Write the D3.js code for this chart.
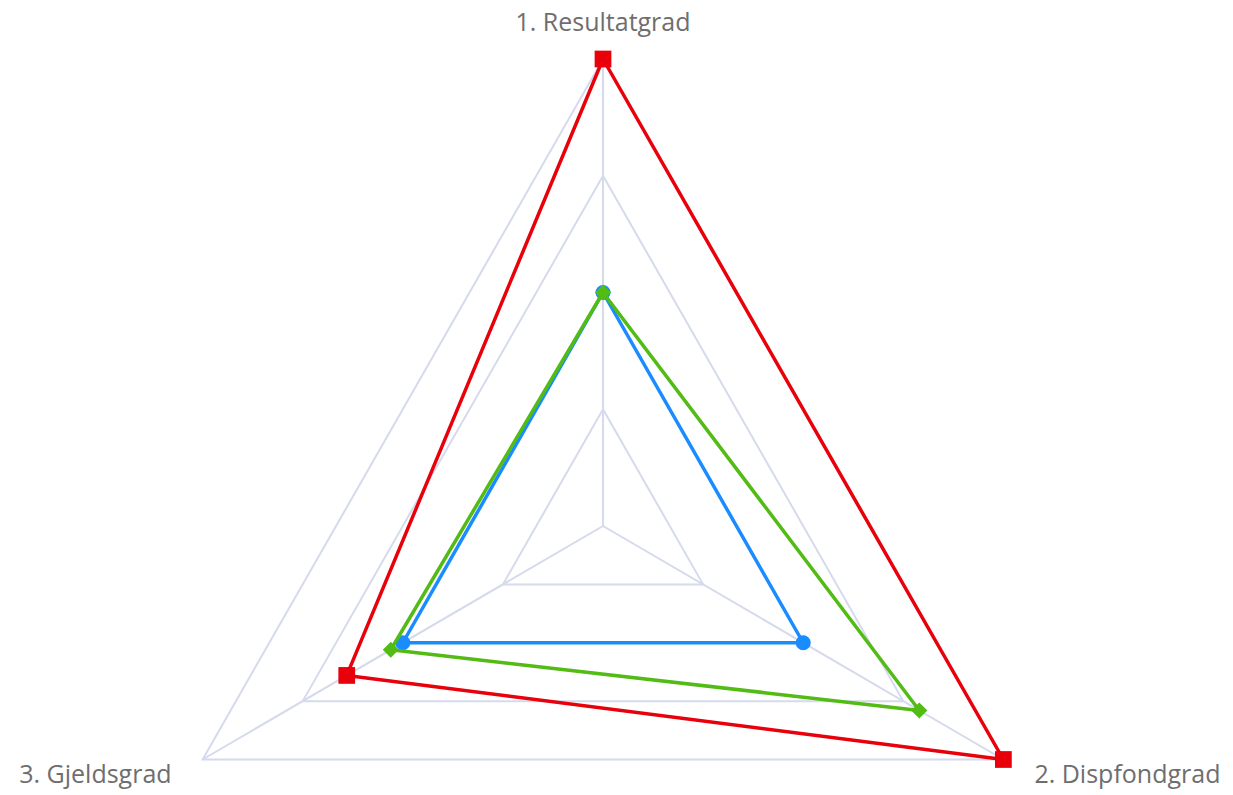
<!DOCTYPE html>
<html>
<head>
<meta charset="utf-8">
<script src="https://cdn.jsdelivr.net/npm/d3@7"></script>
<style>
  body { margin: 0; background: #fff; }
  text { font-family: "Open Sans", "Noto Sans", sans-serif; }
</style>
</head>
<body>
<svg id="chart" width="1233" height="795"></svg>
<script>
// axes and series values (scale 0-100, grid every 25)
const axes = ["1. Resultatgrad", "2. Dispfondgrad", "3. Gjeldsgrad"];
const gridLevels = [25, 50, 75, 100];
const redValues = [100, 100, 64];
const blueValues = [50, 50, 50];
const greenValues = [50, 79, 53];

const series = [
    { name: "red", values: redValues, color: "#e8000b", marker: "square" },
    { name: "blue", values: blueValues, color: "#1a8cff", marker: "circle" },
    { name: "green", values: greenValues, color: "#52bb14", marker: "diamond" }
];

const svg = d3.select("#chart");
const cx = 603, cy = 526, R = 467;

const r = d3.scaleLinear().domain([0, 100]).range([0, R]);
const angle = d3.scalePoint().domain(axes).range([0, 2 * Math.PI * (axes.length - 1) / axes.length]);

// slight horizontal squeeze like the original
function pt(axis, v) {
    const a = angle(axis);
    return [cx + 0.99 * r(v) * Math.sin(a), cy - r(v) * Math.cos(a)];
}

const g = svg.append("g");

// grid rings
g.append("g")
    .selectAll("path")
    .data(gridLevels)
    .enter().append("path")
    .attr("d", lv => d3.line()(axes.map(a => pt(a, lv))) + "Z")
    .attr("fill", "none")
    .attr("stroke", "#d5daec")
    .attr("stroke-width", 2);

// spokes
g.append("g")
    .selectAll("line")
    .data(axes)
    .enter().append("line")
    .attr("x1", cx)
    .attr("y1", cy)
    .attr("x2", a => pt(a, 100)[0])
    .attr("y2", a => pt(a, 100)[1])
    .attr("stroke", "#d5daec")
    .attr("stroke-width", 2);

// axis labels
const labelPos = [
    { dx: 0, dy: -35, anchor: "middle" },
    { dx: 31, dy: 17, anchor: "start" },
    { dx: -31, dy: 17, anchor: "end" }
];
g.append("g")
    .selectAll("text")
    .data(axes)
    .enter().append("text")
    .attr("x", (a, i) => pt(a, 100)[0] + labelPos[i].dx)
    .attr("y", (a, i) => pt(a, 100)[1] + labelPos[i].dy)
    .attr("text-anchor", (a, i) => labelPos[i].anchor)
    .attr("dominant-baseline", "middle")
    .attr("fill", "#6e6e6e")
    .style("font-size", "25px")
    .text(d => d);

// series polygons
const seriesG = g.append("g")
    .selectAll("g")
    .data(series)
    .enter().append("g");

seriesG.append("path")
    .attr("d", s => d3.line()(s.values.map((v, i) => pt(axes[i], v))) + "Z")
    .attr("fill", "none")
    .attr("stroke", s => s.color)
    .attr("stroke-width", 3.5)
    .attr("stroke-linejoin", "round");

const symbolType = { square: d3.symbolSquare, circle: d3.symbolCircle, diamond: d3.symbolSquare };
const symbolSize = { square: 280, circle: 180, diamond: 130 };

seriesG.each(function(s) {
    d3.select(this).selectAll(".marker")
        .data(s.values)
        .enter().append("path")
        .attr("class", "marker")
        .attr("d", d3.symbol().type(symbolType[s.marker]).size(symbolSize[s.marker]))
        .attr("transform", (v, i) => {
            const p = pt(axes[i], v);
            return `translate(${p[0]},${p[1]})` + (s.marker === "diamond" ? " rotate(45)" : "");
        })
        .attr("fill", s.color);
});
</script>
</body>
</html>
